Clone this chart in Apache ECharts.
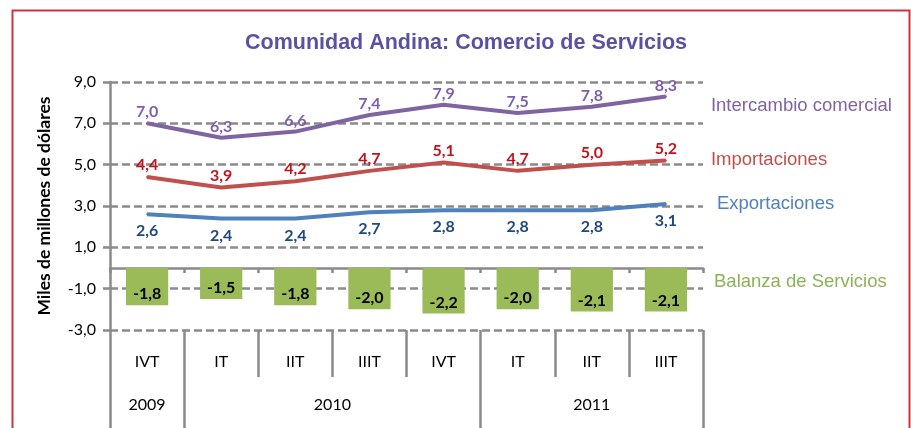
<!DOCTYPE html>
<html>
<head>
<meta charset="utf-8">
<script src="https://cdn.jsdelivr.net/npm/echarts@6/dist/echarts.min.js"></script>
<style>
html,body{margin:0;padding:0;background:#fff;}
#chart{width:911px;height:428px;}
</style>
</head>
<body>
<div id="chart"></div>
<script>
const title = 'Comunidad Andina: Comercio de Servicios';
const yAxisTitle = 'Miles de millones de dólares';
const categories = ['IVT', 'IT', 'IIT', 'IIIT', 'IVT', 'IT', 'IIT', 'IIIT'];
const years = ['2009', '2010', '2011'];
const yearSpans = [1, 4, 3];
const yTicks = [-3, -1, 1, 3, 5, 7, 9];
const seriesNames = ['Intercambio comercial', 'Importaciones', 'Exportaciones', 'Balanza de Servicios'];
const intercambio = [7.0, 6.3, 6.6, 7.4, 7.9, 7.5, 7.8, 8.3];
const importaciones = [4.4, 3.9, 4.2, 4.7, 5.1, 4.7, 5.0, 5.2];
const exportaciones = [2.6, 2.4, 2.4, 2.7, 2.8, 2.8, 2.8, 3.1];
const balanza = [-1.8, -1.5, -1.8, -2.0, -2.2, -2.0, -2.1, -2.1];

const fmt = v => Number(v).toFixed(1).replace('.', ',');
const yearBounds = [0];
yearSpans.forEach(s => yearBounds.push(yearBounds[yearBounds.length - 1] + s));
const yearCenters = years.map((y, i) => (yearBounds[i] + yearBounds[i + 1]) / 2);

const numFont = 'Lato, "Open Sans", sans-serif';
const arial = '"Liberation Sans", Arial, sans-serif';
const gray = '#8a8a8a';

function lineSeries(name, data, lineColor, labelColor, pos, dist, endOffset) {
  return {
    name: name, type: 'line', data: data,
    symbol: 'circle', symbolSize: 2, showSymbol: true,
    itemStyle: { color: lineColor },
    lineStyle: { color: lineColor, width: 4 },
    label: { show: true, position: pos, distance: dist, color: labelColor, fontWeight: 'bold', fontSize: 16, fontFamily: numFont, formatter: p => fmt(p.value) },
    endLabel: { show: true, formatter: name, offset: endOffset, color: lineColor, fontSize: 18.5, fontFamily: arial },
    z: 3
  };
}

const chart = echarts.init(document.getElementById('chart'));
chart.setOption({
  animation: false,
  title: {
    text: title,
    left: 461, textAlign: 'center',
    top: 27,
    textStyle: { color: '#5b51a4', fontSize: 21.5, fontWeight: 'bold', fontFamily: arial }
  },
  graphic: [
    { type: 'rect', left: 10, top: 8, shape: { width: 897, height: 430 }, style: { fill: 'none', stroke: '#c9373e', lineWidth: 2 }, silent: true },
    { type: 'text', left: 714, top: 272, style: { text: seriesNames[3], fill: '#8db255', fontSize: 18.5, fontFamily: arial } }
  ],
  grid: { left: 110, right: 208, top: 82, bottom: 98 },
  xAxis: [
    {
      type: 'category', data: categories, position: 'bottom',
      axisLine: { onZero: true, lineStyle: { color: gray, width: 2.5 } },
      axisTick: { show: true, length: 5, lineStyle: { color: gray, width: 2.5 } },
      axisLabel: { show: false }, splitLine: { show: false }
    },
    {
      type: 'category', data: categories, position: 'bottom',
      axisLine: { show: false, onZero: false },
      axisTick: { show: true, length: 47, lineStyle: { color: gray, width: 2.5 } },
      axisLabel: { show: true, margin: 24, color: '#000', fontSize: 16, fontFamily: numFont },
      splitLine: { show: false }
    },
    {
      type: 'value', min: 0, max: categories.length, position: 'bottom',
      axisLine: { show: false, onZero: false },
      axisTick: { show: true, length: 98, customValues: yearBounds, lineStyle: { color: gray, width: 2.5 } },
      axisLabel: {
        show: true, margin: 67, customValues: yearCenters, color: '#000', fontSize: 16, fontFamily: numFont,
        formatter: v => { const i = yearCenters.indexOf(v); return i >= 0 ? years[i] : ''; }
      },
      splitLine: { show: false }
    }
  ],
  yAxis: {
    type: 'value', min: yTicks[0], max: yTicks[yTicks.length - 1], interval: 2,
    name: yAxisTitle, nameLocation: 'middle', nameRotate: 90, nameGap: 57,
    nameTextStyle: { color: '#000', fontSize: 17.5, fontWeight: 'bold', fontFamily: numFont },
    axisLine: { show: true, lineStyle: { color: gray, width: 2.5 } },
    axisTick: { show: true, length: 7, lineStyle: { color: gray, width: 2.5 } },
    axisLabel: { color: '#000', fontSize: 16, margin: 14, fontFamily: numFont, formatter: fmt },
    splitLine: { show: true, lineStyle: { color: gray, width: 2.5, type: [8, 4] } }
  },
  series: [
    {
      name: seriesNames[3], type: 'bar', data: balanza, barWidth: '57%', xAxisIndex: 0,
      itemStyle: { color: '#9bbb59' },
      label: { show: true, position: 'insideBottom', distance: 3, color: '#000', fontWeight: 'bold', fontSize: 16, fontFamily: numFont, formatter: p => fmt(p.value) },
      z: 1
    },
    lineSeries(seriesNames[0], intercambio, '#8064a2', '#7f5fa8', 'top', 2, [37, 9]),
    lineSeries(seriesNames[1], importaciones, '#c0504d', '#c0141c', 'top', 3, [37, -1]),
    lineSeries(seriesNames[2], exportaciones, '#4f81bd', '#1f497d', 'bottom', 8, [43, 0])
  ]
});
</script>
</body>
</html>
